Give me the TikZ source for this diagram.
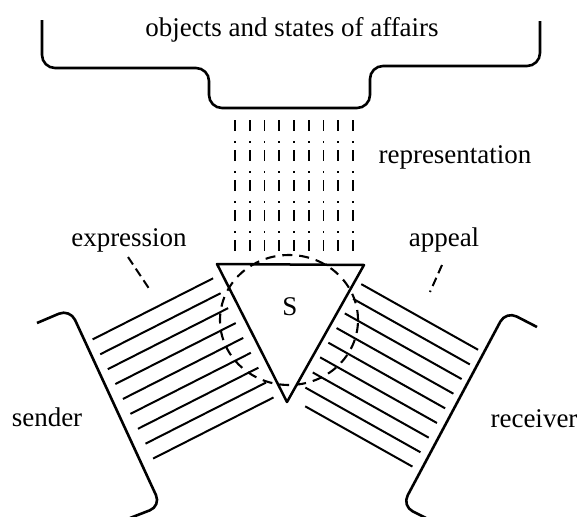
\documentclass[tikz,border=0pt]{standalone}
\usepackage{fontspec}
\setmainfont{Liberation Serif}
\usetikzlibrary{calc}
\begin{document}
\begin{tikzpicture}[x=1pt,y=-1pt,line join=round,
  outline/.style={line width=2.6pt, rounded corners=13pt},
  hatch/.style={line width=2pt},
  lbl/.style={font=\fontsize{27}{30}\selectfont, inner sep=0pt, anchor=base},
  repline/.style={line width=1.8pt, dash pattern=on 11pt off 10pt on 2pt off 7pt},
  tick/.style={line width=2pt, dash pattern=on 9pt off 5pt}]
\useasboundingbox (0,0) rectangle (582,517);

% labels
\node[lbl] (objects) at (292,36) {objects and states of affairs};
\node[lbl] (repr) at (455,163) {representation};
\node[lbl] (expr) at (129,246) {expression};
\node[lbl] (appeal) at (444,246) {appeal};
\node[lbl] (sender) at (47,426) {sender};
\node[lbl] (receiver) at (534,427) {receiver};

% top bracket
\draw[outline] (42,20) -- (42,68) -- (209,68) -- (209,108) -- (370,108) -- (370,66) -- (540,66) -- (540,21);

% sender bracket
\draw[outline, rounded corners=12pt] (37,323) -- (70,309) -- (161,506) -- (130,518);
% receiver bracket
\draw[outline, rounded corners=12pt] (537,327) -- (506,311) -- (402,506) -- (426,518);

% representation lines
\foreach \x in {235,249.75,264.5,279.25,294,308.75,323.5,338.25,353}
  \draw[repline] (\x,120) -- (\x,258);

% triangle (sign)
\coordinate (A) at (217,264);
\coordinate (B) at (364,265);
\coordinate (C) at (287,402);
\draw[line width=2.5pt] (A) -- (B) -- (C) -- cycle;
\node[lbl] (S) at (290,315) {S};

% expression hatch
\foreach \s in {11,27.7,44.4,61.1,77.8,94.5,111.2,127.9,144.6}{
  \coordinate (p) at ($(A)!\s pt!(C)$);
  \draw[hatch] ($(p)!10pt!-90:(C)$) -- ($(p)!145pt!-90:(C)$);
}
% appeal hatch
\foreach \s/\a in {18/7,34.8/7,51.6/7,68.4/7,85.2/7,102/7,118.8/8,135.6/9,152/18}{
  \coordinate (q) at ($(B)!\s pt!(C)$);
  \draw[hatch] ($(q)!\a pt!90:(C)$) -- ($(q)!141pt!90:(C)$);
}

% dashed circle
\draw[line width=2.1pt, dash pattern=on 10pt off 7pt] (289,320) ellipse [x radius=69pt, y radius=65pt];

% label ticks
\coordinate (e1) at (128,257);
\coordinate (e2) at (150,290);
\draw[tick] (e1) -- (e2);
\coordinate (a1) at (442,265);
\coordinate (a2) at (430,292);
\draw[tick] (a1) -- (a2);
\end{tikzpicture}
\end{document}
